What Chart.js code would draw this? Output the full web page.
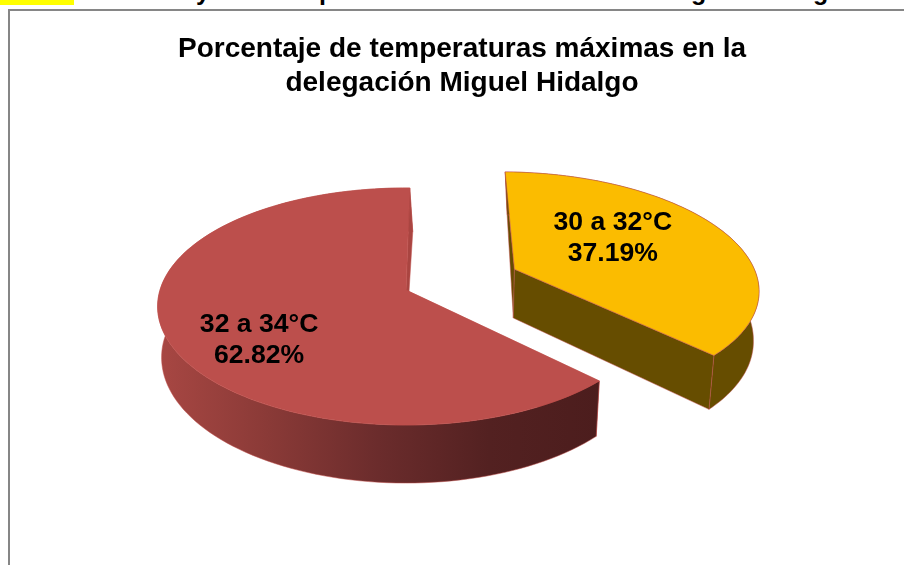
<!DOCTYPE html>
<html>
<head>
<meta charset="utf-8">
<script src="https://cdn.jsdelivr.net/npm/chart.js@4/dist/chart.umd.min.js"></script>
<style>
  html, body { margin: 0; padding: 0; width: 904px; height: 565px; overflow: hidden; background: #fff; }
  #mark { position: absolute; left: 0; top: 0; width: 74px; height: 5px; background: #ffff00; }
  .cut { position: absolute; top: -24px; font: bold 25px "Liberation Sans", Arial, sans-serif; line-height: 30px; color: #000; }
  #frame { position: absolute; left: 8px; top: 9px; width: 920px; height: 600px; border: 2px solid #868686; box-sizing: border-box; }
  #wrap { position: absolute; left: 0; top: 0; width: 904px; height: 565px; }
</style>
</head>
<body>
<div id="mark"></div>
<span class="cut" style="left:196px">y</span>
<span class="cut" style="left:319px">p</span>
<span class="cut" style="left:691px">g</span>
<span class="cut" style="left:813px">g</span>
<div id="frame"></div>
<div id="wrap"><canvas id="pieCanvas" width="904" height="565"></canvas></div>
<script>
const titleLines = ["Porcentaje de temperaturas máximas en la", "delegación Miguel Hidalgo"];
const categories = ["30 a 32°C", "32 a 34°C"];
const percents = [37.19, 62.82];

// colours of the slices and of their side walls
const sliceColors = ["#FBBC00", "#BC4F4C"];
const edgeColor = "#C0504D";
const cutWallColors = ["#664D00", "#A94541"];
const roundWallStops = [
  ["#664D00", "#664D00"],
  ["#A84743", "#8A3A37", "#6B2C2C", "#532121", "#4C1D1D"]
];
// where the labels sit on each slice: share of the radius, degrees clockwise from the back
const labelSpots = [[0.529, 57], [0.696, 234]];

// the fake 3d view
const CX = 406, CY = 290, TILT = 0.4725, PERSP = 0.139, DEPTH = 50, SHRINK = 0.984, BACK_LEAN = 25;

function project(px, py, R, low) {
  const s = 1 / (1 - PERSP * py / R);
  let x = CX + px * s;
  let y = CY + py * TILT * s;
  if (low) {
    x = CX + (x - CX) * SHRINK + Math.max(0, BACK_LEAN * (1 - s));
    y += DEPTH * s;
  }
  return [x, y];
}

const pie3d = {
  id: "pie3d",
  beforeDatasetDraw(chart) {
    const ctx = chart.ctx;
    const arcs = chart.getDatasetMeta(0).data;
    for (const i of [1, 0]) {
      const arc = arcs[i];
      const R = arc.outerRadius;
      const mid = (arc.startAngle + arc.endAngle) / 2;
      const ox = Math.cos(mid) * arc.options.offset;
      const oy = Math.sin(mid) * arc.options.offset;
      const rim = (low) => {
        const pts = [];
        for (let n = 0; n <= 120; n++) {
          const a = arc.startAngle + (arc.endAngle - arc.startAngle) * n / 120;
          pts.push(project(ox + Math.cos(a) * R, oy + Math.sin(a) * R, R, low));
        }
        return pts;
      };
      const top = rim(false);
      const low = rim(true);
      const hub = project(ox, oy, R, false);
      const hubLow = project(ox, oy, R, true);

      const poly = (pts, fill) => {
        ctx.beginPath();
        pts.forEach((p, n) => n ? ctx.lineTo(p[0], p[1]) : ctx.moveTo(p[0], p[1]));
        ctx.closePath();
        ctx.fillStyle = fill;
        ctx.fill();
        ctx.strokeStyle = arc.options.borderColor;
        ctx.lineWidth = arc.options.borderWidth;
        ctx.stroke();
      };

      ctx.save();
      // start wall, round wall, end wall, the top hides whatever faces away
      poly([hub, top[0], low[0], hubLow], cutWallColors[i]);

      const xs = top.map(p => p[0]);
      const grad = ctx.createLinearGradient(Math.min(...xs), 0, Math.max(...xs), 0);
      roundWallStops[i].forEach((c, n, all) => grad.addColorStop(n / (all.length - 1), c));
      poly(top.concat(low.slice().reverse()), grad);

      poly([hub, top[120], low[120], hubLow], cutWallColors[i]);

      poly([hub].concat(top), arc.options.backgroundColor);
      ctx.restore();
    }
    return false;
  },
  afterDatasetsDraw(chart) {
    const ctx = chart.ctx;
    const arcs = chart.getDatasetMeta(0).data;
    ctx.save();
    ctx.fillStyle = "#000";
    ctx.font = "bold 26.6px 'Liberation Sans', Arial, sans-serif";
    ctx.textAlign = "center";
    ctx.textBaseline = "middle";
    arcs.forEach((arc, i) => {
      const R = arc.outerRadius;
      const mid = (arc.startAngle + arc.endAngle) / 2;
      const a = (labelSpots[i][1] - 90) * Math.PI / 180;
      const r = labelSpots[i][0] * R;
      const p = project(Math.cos(mid) * arc.options.offset + Math.cos(a) * r,
                        Math.sin(mid) * arc.options.offset + Math.sin(a) * r, R, false);
      ctx.fillText(categories[i], p[0], p[1] - 15.5);
      ctx.fillText(percents[i].toFixed(2) + "%", p[0], p[1] + 15.5);
    });
    ctx.restore();
  }
};

new Chart(document.getElementById("pieCanvas"), {
  type: "pie",
  data: {
    labels: categories,
    datasets: [{
      data: percents,
      backgroundColor: sliceColors,
      borderColor: edgeColor,
      borderWidth: 0.5,
      offset: [120, 0],
      radius: 246
    }]
  },
  options: {
    responsive: false,
    animation: false,
    rotation: 1,
    layout: { padding: { left: 20, top: 20 } },
    events: [],
    plugins: {
      legend: { display: false },
      tooltip: { enabled: false },
      title: {
        display: true,
        text: titleLines,
        color: "#000",
        font: { family: "'Liberation Sans', Arial, sans-serif", size: 28, weight: "bold", lineHeight: 1.21 },
        padding: { top: 12, bottom: 10 }
      }
    }
  },
  plugins: [pie3d]
});
</script>
</body>
</html>
